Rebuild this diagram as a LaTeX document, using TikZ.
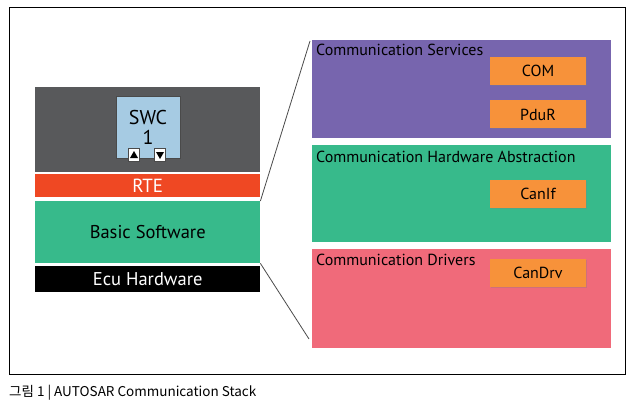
\documentclass[tikz,border=0pt]{standalone}
\usepackage{fontspec}
\setmainfont{PT Sans}
\newfontfamily\krfont{Noto Sans CJK KR}
\usetikzlibrary{calc,shadows}
\definecolor{swcgray}{HTML}{58595B}
\definecolor{rtered}{HTML}{EF4823}
\definecolor{bswgreen}{HTML}{37BA8B}
\definecolor{swcblue}{HTML}{A6CBE3}
\definecolor{srvpurple}{HTML}{7765AE}
\definecolor{drvpink}{HTML}{F06A7A}
\definecolor{modorange}{HTML}{F7923A}
\definecolor{edge}{HTML}{4A4A4A}
\tikzset{
  layer/.style={anchor=north west, inner sep=0pt, minimum width=225pt, text=white},
  group/.style={anchor=north west, inner sep=0pt, minimum width=299pt},
  grouptitle/.style={anchor=base west, inner sep=0pt, font=\fontsize{16}{19}\selectfont},
  module/.style={fill=modorange, minimum width=96pt, minimum height=28pt, inner sep=0pt,
    font=\fontsize{16}{18}\selectfont,
    drop shadow={opacity=0.3, shadow xshift=1pt, shadow yshift=-1pt}},
  port/.style={draw=edge, fill=white, line width=0.6pt, minimum width=11pt, minimum height=13pt, inner sep=0pt},
  zoomline/.style={draw=edge, line width=0.8pt},
}
\begin{document}
\begin{tikzpicture}[x=1pt,y=-1pt]
\useasboundingbox[fill=white] (0,0) rectangle (630,404);
\draw[line width=0.8pt] (9,7) rectangle (625,374);

% left stack
\node[layer, fill=swcgray, minimum height=85pt] (appl) at (35,87) {};
\node[layer, fill=rtered, minimum height=23pt, font=\fontsize{19}{21}\selectfont] (rte) at (35,174) {RTE};
\node[layer, fill=bswgreen, minimum height=62pt, text=black, font=\fontsize{18.5}{21}\selectfont] (bsw) at (35,201) {Basic Software};
\node[layer, fill=black, minimum height=26pt, font=\fontsize{18.5}{21}\selectfont] (ecu) at (35,266) {Ecu Hardware};

\node[draw=edge, fill=swcblue, line width=0.6pt, minimum width=64pt, minimum height=62pt, inner sep=0pt,
  align=center, font=\fontsize{20}{21}\selectfont] (swc) at (148,127) {SWC\\[-1pt]1};
\node[port] (pup) at (134,155) {};
\node[port] (pdn) at (160,155) {};
\fill ($(pup.center)+(-4,3)$) -- ($(pup.center)+(4,3)$) -- ($(pup.center)+(0,-4)$) -- cycle;
\fill ($(pdn.center)+(-4,-3)$) -- ($(pdn.center)+(4,-3)$) -- ($(pdn.center)+(0,4)$) -- cycle;

% right groups
\node[group, fill=srvpurple, minimum height=98pt] (srv) at (312,40) {};
\node[group, fill=bswgreen, minimum height=97pt] (hwa) at (312,145) {};
\node[group, fill=drvpink, minimum height=99pt] (drv) at (312,249) {};
\node[grouptitle] (srvt) at (316,56) {Communication Services};
\node[grouptitle] (hwat) at (316,162) {Communication Hardware Abstraction};
\node[grouptitle] (drvt) at (316,265) {Communication Drivers};

\node[module] (com) at (538,71) {COM};
\node[module] (pdur) at (538,114.5) {PduR};
\node[module] (canif) at (538,194) {CanIf};
\node[module] (candrv) at (538,272.5) {CanDrv};

% zoom lines
\coordinate (drvend) at (309,339);
\draw[zoomline] (bsw.north east) -- ($(srv.north west)+(-2,1)$);
\draw[zoomline] (bsw.south east) -- (drvend);

\node[anchor=base west, inner sep=0pt, font=\krfont\fontsize{13.5}{15}\selectfont] (cap) at (9,396) {그림 1 | AUTOSAR Communication Stack};
\end{tikzpicture}
\end{document}
